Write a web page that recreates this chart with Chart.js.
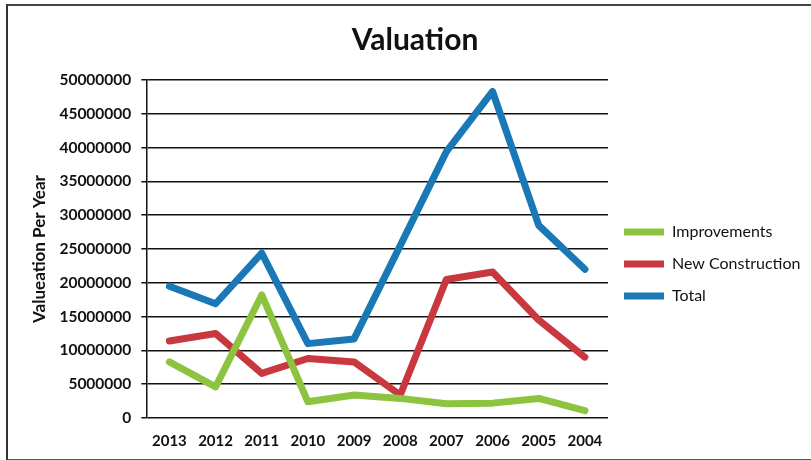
<!DOCTYPE html>
<html>
<head>
<meta charset="utf-8">
<script src="https://cdn.jsdelivr.net/npm/chart.js@4/dist/chart.umd.min.js"></script>
<style>
  html, body { margin: 0; padding: 0; background: #fff; overflow: hidden; }
  #wrap { position: relative; width: 811px; height: 460px; }
  #frame {
    position: absolute; left: 6px; top: 4px; width: 900px; height: 453px;
    border-left: 2px solid #333; border-top: 2px solid #444; border-bottom: 2px solid #555;
    pointer-events: none;
  }
</style>
</head>
<body>
<div id="wrap">
  <canvas id="chart" width="811" height="460"></canvas>
  <div id="frame"></div>
</div>
<script>
// data
const YEARS = ['2013', '2012', '2011', '2010', '2009', '2008', '2007', '2006', '2005', '2004'];
const IMPROVEMENTS     = [8300000, 4600000, 18200000, 2400000, 3400000, 2900000, 2100000, 2200000, 2900000, 1100000];
const NEW_CONSTRUCTION = [11400000, 12500000, 6600000, 8800000, 8300000, 3400000, 20500000, 21600000, 14500000, 9000000];
const TOTAL            = [19500000, 16900000, 24400000, 11000000, 11700000, 25500000, 39400000, 48300000, 28500000, 22000000];

const FONT = "Lato, 'Open Sans', sans-serif";

const SERIES = [
  { label: 'Improvements',     data: IMPROVEMENTS,     color: '#8cc43f' },
  { label: 'New Construction', data: NEW_CONSTRUCTION, color: '#c9383f' },
  { label: 'Total',            data: TOTAL,            color: '#1a78b6' },
];

new Chart(document.getElementById('chart'), {
  type: 'line',
  data: {
    labels: YEARS,
    datasets: SERIES.map(s => ({
      label: s.label,
      data: s.data,
      borderColor: s.color,
      backgroundColor: s.color,
      borderWidth: 7,
      borderCapStyle: 'round',
      borderJoinStyle: 'round',
      pointRadius: 0,
      tension: 0,
      fill: false,
    })),
  },
  options: {
    responsive: false,
    animation: false,
    layout: { padding: { left: 29, right: 10, top: 0, bottom: 4 } },
    plugins: {
      title: {
        display: true,
        text: 'Valuation',
        color: '#111',
        font: { family: FONT, size: 30, weight: 'bold' },
        padding: { top: 22, bottom: 22 },
      },
      legend: {
        position: 'right',
        // empty title only pushes the centred items down
        title: { display: true, text: '', font: { size: 15 }, padding: { top: 54, bottom: 0 } },
        labels: {
          color: '#111',
          font: { family: FONT, size: 16 },
          usePointStyle: true,
          pointStyle: 'line',
          pointStyleWidth: 40,
          padding: 16,
        },
      },
      tooltip: { enabled: false },
    },
    scales: {
      x: {
        offset: true,
        grid: { display: false },
        border: { display: false },
        ticks: {
          color: '#111',
          font: { family: FONT, size: 15, weight: 'bold' },
          padding: 6,
          maxRotation: 0,
        },
      },
      y: {
        min: 0,
        max: 50000000,
        border: { display: true, color: '#111', width: 1.5 },
        grid: { color: '#111', lineWidth: 1.5, tickLength: 5 },
        ticks: {
          stepSize: 5000000,
          color: '#111',
          font: { family: FONT, size: 15.5, weight: 'bold' },
          padding: 10,
          callback: v => String(v),
        },
        title: {
          display: true,
          text: 'Valueation Per Year',
          color: '#111',
          font: { family: FONT, size: 17, weight: 'bold' },
          padding: { top: 0, bottom: 0 },
        },
      },
    },
  },
});
</script>
</body>
</html>
